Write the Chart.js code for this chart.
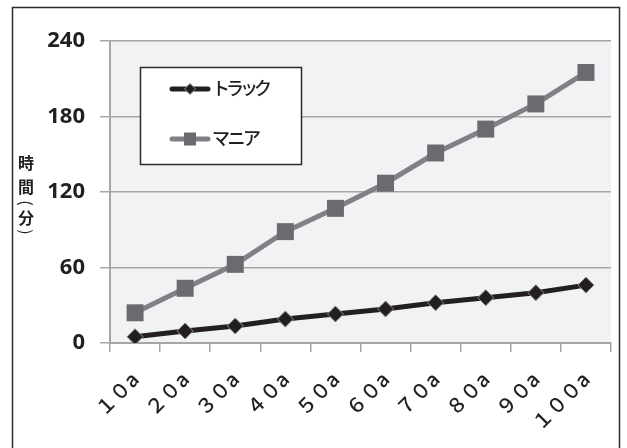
<!DOCTYPE html>
<html>
<head>
<meta charset="utf-8">
<script src="https://cdn.jsdelivr.net/npm/chart.js@4/dist/chart.umd.min.js"></script>
<style>
html,body{margin:0;padding:0;background:#fff;}
canvas{display:block;}
</style>
</head>
<body>
<canvas id="c" width="627" height="448"></canvas>
<script>
const categories = ['１０a','２０a','３０a','４０a','５０a','６０a','７０a','８０a','９０a','１００a'];
const seriesNames = ['トラック','マニア'];
const truckValues = [5, 9.5, 13.5, 19, 23, 27, 32, 36, 40, 46];
const manureValues = [24, 43.5, 62.5, 88.5, 107, 127, 151, 170, 190, 215];
const yTitleChars = ['時','間','(','分',')'];
const yMin = 0, yMax = 240, yStep = 60;

const framePlugin = {
  id: 'frame',
  beforeDraw(chart) {
    const {ctx, chartArea: a} = chart;
    ctx.save();
    ctx.fillStyle = '#f1f2f4';
    ctx.fillRect(a.left, a.top, a.right - a.left, a.bottom - a.top);
    ctx.restore();
  },
  afterDraw(chart) {
    const ctx = chart.ctx;
    ctx.save();
    // outer frame
    ctx.strokeStyle = '#2b2b2b';
    ctx.lineWidth = 1.5;
    ctx.beginPath();
    ctx.moveTo(12.5, 460);
    ctx.lineTo(12.5, 7.5);
    ctx.lineTo(619.5, 7.5);
    ctx.lineTo(619.5, 460);
    ctx.stroke();
    // y title (vertical stacked)
    ctx.fillStyle = '#231f20';
    ctx.textAlign = 'center';
    ctx.textBaseline = 'middle';
    const ys = [163, 187, 203, 218, 232];
    yTitleChars.forEach((ch, i) => {
      ctx.save();
      ctx.translate(26, ys[i]);
      if (ch === '(' || ch === ')') {
        ctx.rotate(Math.PI / 2);
        ctx.font = '16px "Noto Sans CJK JP"';
      } else {
        ctx.font = 'bold 16px "Noto Sans CJK JP"';
      }
      ctx.fillText(ch, 0, 0);
      ctx.restore();
    });
    // legend box
    const bx = 140.5, by = 67.5, bw = 161, bh = 97;
    ctx.fillStyle = '#ffffff';
    ctx.fillRect(bx, by, bw, bh);
    ctx.strokeStyle = '#2b2b2b';
    ctx.lineWidth = 1.5;
    ctx.strokeRect(bx, by, bw, bh);
    const rows = [89, 139];
    chart.data.datasets.forEach((ds, i) => {
      const y = rows[i];
      ctx.strokeStyle = ds.borderColor;
      ctx.lineWidth = ds.borderWidth;
      ctx.lineCap = 'round';
      ctx.beginPath();
      ctx.moveTo(172, y);
      ctx.lineTo(208, y);
      ctx.stroke();
      ctx.lineCap = 'butt';
      ctx.fillStyle = ds.pointBackgroundColor;
      ctx.strokeStyle = ds.pointBorderColor;
      ctx.lineWidth = 1;
      ctx.beginPath();
      if (i === 0) {
        ctx.moveTo(190, y - 5.5); ctx.lineTo(195.5, y); ctx.lineTo(190, y + 5.5); ctx.lineTo(184.5, y); ctx.closePath();
        ctx.fill(); ctx.stroke();
      } else {
        ctx.fillRect(184, y - 6.5, 12, 13);
      }
      ctx.fillStyle = '#231f20';
      ctx.font = '500 18px "Noto Sans CJK JP"';
      ctx.letterSpacing = i === 0 ? '-4px' : '-2.5px';
      ctx.textAlign = 'left';
      ctx.textBaseline = 'middle';
      ctx.fillText(ds.label, 212, y - 1);
      ctx.letterSpacing = '0px';
    });
    ctx.restore();
  }
};

new Chart(document.getElementById('c'), {
  type: 'line',
  data: {
    labels: categories,
    datasets: [
      {
        label: seriesNames[0],
        data: truckValues,
        borderColor: '#231f20',
        borderWidth: 5,
        pointStyle: 'rectRot',
        pointRadius: 8,
        pointBackgroundColor: '#231f20',
        pointBorderColor: '#8c8c8c',
        pointBorderWidth: 1,
        tension: 0
      },
      {
        label: seriesNames[1],
        data: manureValues,
        borderColor: '#808184',
        borderWidth: 5,
        pointStyle: 'rect',
        pointRadius: 12,
        pointBackgroundColor: '#6a6b6e',
        pointBorderColor: '#6a6b6e',
        pointBorderWidth: 0,
        tension: 0
      }
    ]
  },
  options: {
    responsive: false,
    animation: false,
    layout: { padding: { left: 0, right: 16, top: 41, bottom: 0 } },
    plugins: { legend: { display: false }, tooltip: { enabled: false } },
    scales: {
      x: {
        type: 'category',
        offset: true,
        grid: { offset: true, drawOnChartArea: false, drawTicks: true, tickLength: 9, color: '#a6a6a6', lineWidth: 1.5 },
        border: { color: '#a6a6a6', width: 2 },
        ticks: {
          minRotation: 45, maxRotation: 45, padding: 15,
          color: '#231f20',
          font: { family: '"Noto Sans CJK JP"', size: 20, weight: '500' }
        },
        afterFit(s) { s.height = 105; }
      },
      y: {
        min: yMin, max: yMax,
        grid: { color: '#a6a6a6', lineWidth: 1.5, tickLength: 10 },
        border: { color: '#a6a6a6', width: 2 },
        ticks: {
          stepSize: yStep, padding: 15,
          color: '#231f20',
          font: { family: '"Open Sans"', size: 22, weight: 'bold' }
        },
        afterFit(s) { s.width = 110; }
      }
    }
  },
  plugins: [framePlugin]
});
</script>
</body>
</html>
